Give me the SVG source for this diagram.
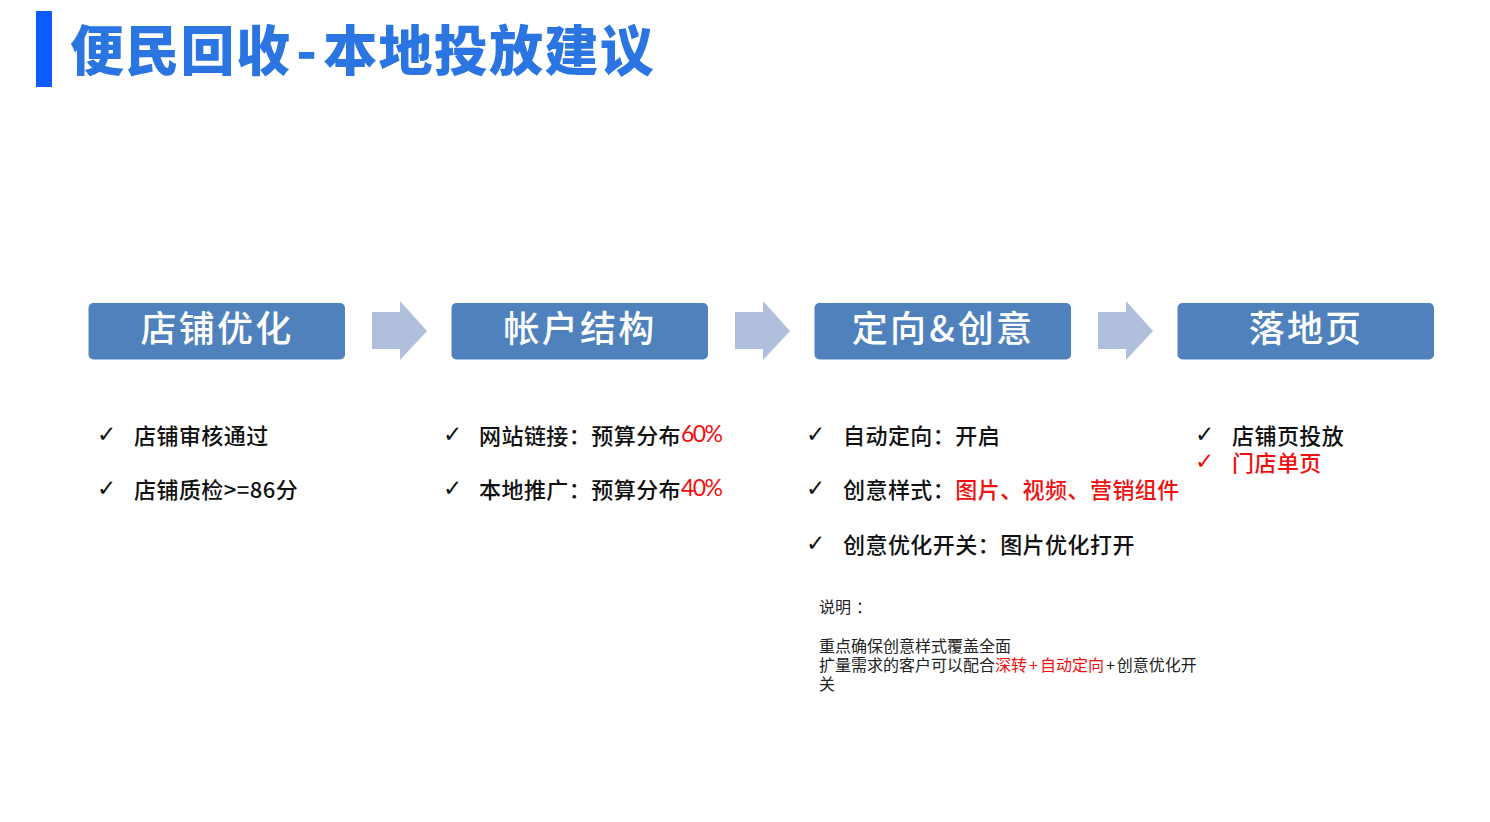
<svg xmlns="http://www.w3.org/2000/svg" width="1490" height="822" viewBox="0 0 1490 822">
<style>
text{font-family:"Liberation Sans","Noto Sans CJK SC",sans-serif}
.title{font-family:"Noto Sans CJK SC",sans-serif;font-size:54px;font-weight:900;fill:#2b75e3;letter-spacing:1.3px}
.box{fill:#4f81bd}
.hd{font-family:"Noto Sans CJK SC",sans-serif;font-size:36px;font-weight:500;fill:#fff;text-anchor:middle;letter-spacing:2.2px}
.b{font-family:"Noto Sans CJK SC",sans-serif;font-size:22px;font-weight:500;fill:#111;letter-spacing:.45px}
.ck{font-family:"DejaVu Sans",sans-serif;font-size:23px;font-weight:700;fill:#111}
.n{font-family:"Noto Sans CJK SC",sans-serif;font-size:16px;fill:#222}
.r{fill:#f01010}
.pc{font-family:"Lato",sans-serif;font-weight:400;font-size:23px;letter-spacing:-1.6px}
.arrow{fill:#b0c0dc}
</style>
<g id="header">
<rect x="36" y="11" width="16" height="76" fill="#0d5cff"/>
<text class="title" x="70" y="71">便民回收<tspan dx="5">-</tspan><tspan dx="5">本地投放建议</tspan></text>
</g>
<g id="connectors">
<path class="arrow" d="M372 312H400V301L427 331L400 360V349H372Z"/>
<path class="arrow" d="M735 312H763V301L790 331L763 360V349H735Z"/>
<path class="arrow" d="M1098 312H1126V301L1153 331L1126 360V349H1098Z"/>
</g>
<g id="node1">
<rect class="box" x="88.500" y="303" width="256.500" height="56.500" rx="5"/>
<text class="hd" x="217" y="342">店铺优化</text>
<text class="ck" x="97" y="442">✓</text><text class="b" x="134" y="444">店铺审核通过</text>
<text class="ck" x="97" y="496">✓</text><text class="b" x="134" y="498">店铺质检&gt;=86分</text>
</g>
<g id="node2">
<rect class="box" x="451.500" y="303" width="256.500" height="56.500" rx="5"/>
<text class="hd" x="580" y="342">帐户结构</text>
<text class="ck" x="443" y="442">✓</text><text class="b" x="479" y="444">网站链接：预算分布<tspan class="r pc" dy="-2">60%</tspan></text>
<text class="ck" x="443" y="496">✓</text><text class="b" x="479" y="498">本地推广：预算分布<tspan class="r pc" dy="-2">40%</tspan></text>
</g>
<g id="node3">
<rect class="box" x="814.500" y="303" width="256.500" height="56.500" rx="5"/>
<text class="hd" x="943" y="342">定向<tspan dx="1">&amp;</tspan><tspan dx="1">创意</tspan></text>
<text class="ck" x="806" y="442">✓</text><text class="b" x="843" y="444">自动定向：开启</text>
<text class="ck" x="806" y="496">✓</text><text class="b" x="843" y="498">创意样式：<tspan class="r">图片、视频、营销组件</tspan></text>
<text class="ck" x="806" y="551">✓</text><text class="b" x="843" y="553">创意优化开关：图片优化打开</text>
<text class="n" x="819" y="613">说明<tspan dx="5">：</tspan></text>
<text class="n" x="819" y="652">重点确保创意样式覆盖全面</text>
<text class="n" x="819" y="671">扩量需求的客户可以配合<tspan class="r">深转<tspan dx="2">+</tspan><tspan dx="2">自动定向</tspan></tspan><tspan dx="2">+</tspan><tspan dx="2">创意优化开</tspan></text>
<text class="n" x="819" y="690">关</text>
</g>
<g id="node4">
<rect class="box" x="1177.500" y="303" width="256.500" height="56.500" rx="5"/>
<text class="hd" x="1306" y="342">落地页</text>
<text class="ck" x="1195" y="442">✓</text><text class="b" x="1232" y="444">店铺页投放</text>
<text class="ck r" x="1195" y="469">✓</text><text class="b r" x="1232" y="471">门店单页</text>
</g>
</svg>
